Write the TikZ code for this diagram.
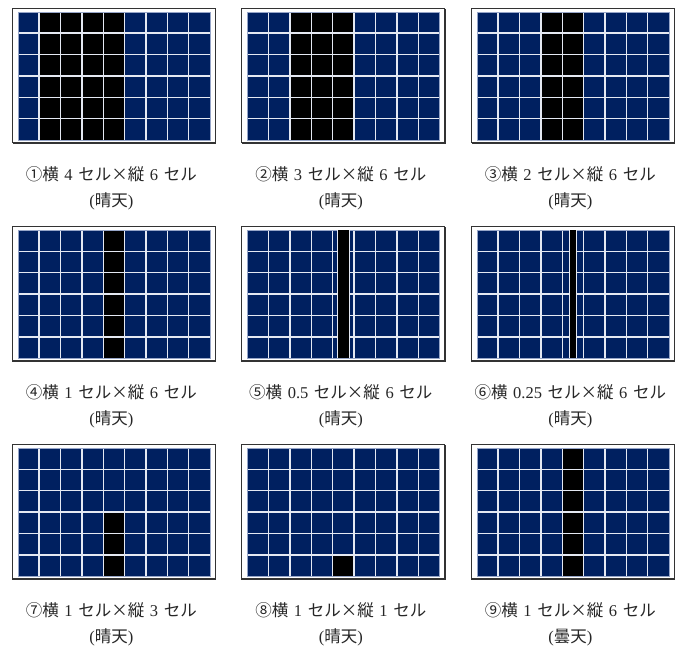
\documentclass[tikz,border=0pt]{standalone}
\usepackage{fontspec}
\setmainfont{Liberation Serif}
\newfontfamily\jpfont{Noto Sans CJK JP}
\definecolor{navy}{RGB}{0,32,96}
\definecolor{gline}{RGB}{228,232,242}
\definecolor{gedge}{RGB}{150,165,200}
\tikzset{
  panelbox/.style={draw=black!80, line width=1pt, fill=white},
  gridline/.style={draw=gline, line width=1.4pt},
  subline/.style={draw=gline, line width=1.1pt},
  gridedge/.style={draw=gedge, line width=0.6pt},
  blackcell/.style={fill=black},
  captext/.style={font=\fontsize{16.5}{18}\selectfont, text=black!85, inner sep=0pt, anchor=center},
}
\newcommand\mycw{21.37}
\newcommand\capsp{\hspace{0.34em}}
\newcommand\mytimes{\makebox[1em]{\jpfont ×}}
% caption line 1: #1 circled number, #2 horizontal, #3 vertical
\newcommand\capone[3]{{\jpfont #1横}\capsp#2\capsp{\jpfont セル}\mytimes{\jpfont 縦}\capsp#3\capsp{\jpfont セル}}
\newcommand\pbase{%
  \draw[panelbox] (0,0) rectangle (203,134.5);
  \draw[black!80, line width=1.6pt] (203,0.5) -- (203,134.5) -- (0.5,134.5);
  \fill[navy] (5.5,3.5) rectangle (197.8,131.8);
}
\newcommand\pblack[4]{%
  \fill[blackcell] ({5.5+(#1-1)*\mycw},{3.5+(#3-1)*\mycw}) rectangle ({5.5+#2*\mycw},{3.5+#4*\mycw});
}
\newcommand\pgrid{%
  \foreach \k in {1,...,8} \draw[gridline] ({5.5+\k*\mycw},3.5) -- ({5.5+\k*\mycw},131.8);
  \foreach \k in {1,...,5} \draw[gridline] (5.5,{3.5+\k*\mycw}) -- (197.8,{3.5+\k*\mycw});
  \draw[gridedge] (5.5,3.5) rectangle (197.8,131.8);
}
\newcommand\pstrip[1]{%
  \pgfmathsetmacro\myhw{#1*\mycw/2}
  \pgfmathsetmacro\mycx{5.5+4.5*\mycw}
  \fill[blackcell] ({\mycx-\myhw},3.5) rectangle ({\mycx+\myhw},131.8);
  \draw[subline] ({\mycx-\myhw-0.7},3.5) -- ({\mycx-\myhw-0.7},131.8);
  \draw[subline] ({\mycx+\myhw+0.7},3.5) -- ({\mycx+\myhw+0.7},131.8);
}
\begin{document}
\begin{tikzpicture}[x=1pt,y=-1pt]
\useasboundingbox (0,0) rectangle (687,645);
% ---------- row 1
\begin{scope}[shift={(12.3,8.3)}]
  \pbase \pblack{2}{5}{1}{6} \pgrid
  \node[captext] (c1a) at (99,166) {\capone{①}{4}{6}};
  \node[captext] (c1b) at (99,193) {({\jpfont 晴天})};
\end{scope}
\begin{scope}[shift={(241.8,8.3)}]
  \pbase \pblack{3}{5}{1}{6} \pgrid
  \node[captext] (c2a) at (99,166) {\capone{②}{3}{6}};
  \node[captext] (c2b) at (99,193) {({\jpfont 晴天})};
\end{scope}
\begin{scope}[shift={(471.3,8.3)}]
  \pbase \pblack{4}{5}{1}{6} \pgrid
  \node[captext] (c3a) at (99,166) {\capone{③}{2}{6}};
  \node[captext] (c3b) at (99,193) {({\jpfont 晴天})};
\end{scope}
% ---------- row 2
\begin{scope}[shift={(12.3,226.5)}]
  \pbase \pblack{5}{5}{1}{6} \pgrid
  \node[captext] (c4a) at (99,166) {\capone{④}{1}{6}};
  \node[captext] (c4b) at (99,193) {({\jpfont 晴天})};
\end{scope}
\begin{scope}[shift={(241.8,226.5)}]
  \pbase \pgrid \pstrip{0.5}
  \node[captext] (c5a) at (99,166) {\capone{⑤}{0.5}{6}};
  \node[captext] (c5b) at (99,193) {({\jpfont 晴天})};
\end{scope}
\begin{scope}[shift={(471.3,226.5)}]
  \pbase \pgrid \pstrip{0.25}
  \node[captext] (c6a) at (99,166) {\capone{⑥}{0.25}{6}};
  \node[captext] (c6b) at (99,193) {({\jpfont 晴天})};
\end{scope}
% ---------- row 3
\begin{scope}[shift={(12.3,444.5)}]
  \pbase \pblack{5}{5}{4}{6} \pgrid
  \node[captext] (c7a) at (99,166) {\capone{⑦}{1}{3}};
  \node[captext] (c7b) at (99,193) {({\jpfont 晴天})};
\end{scope}
\begin{scope}[shift={(241.8,444.5)}]
  \pbase \pblack{5}{5}{6}{6} \pgrid
  \node[captext] (c8a) at (99,166) {\capone{⑧}{1}{1}};
  \node[captext] (c8b) at (99,193) {({\jpfont 晴天})};
\end{scope}
\begin{scope}[shift={(471.3,444.5)}]
  \pbase \pblack{5}{5}{1}{6} \pgrid
  \node[captext] (c9a) at (99,166) {\capone{⑨}{1}{6}};
  \node[captext] (c9b) at (99,193) {({\jpfont 曇天})};
\end{scope}
\end{tikzpicture}
\end{document}
